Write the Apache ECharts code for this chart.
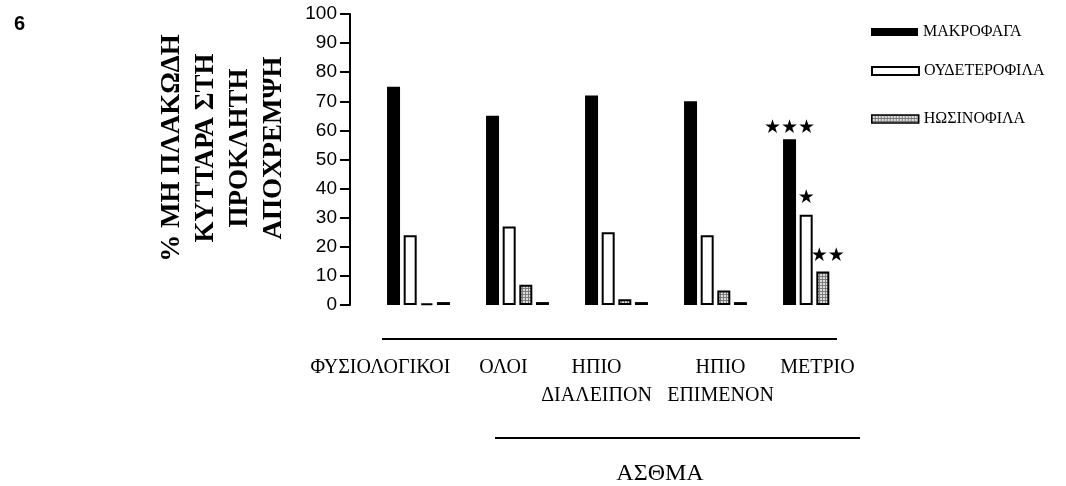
<!DOCTYPE html>
<html>
<head>
<meta charset="utf-8">
<script src="https://cdn.jsdelivr.net/npm/echarts@6/dist/echarts.min.js"></script>
<style>
html,body{margin:0;padding:0;background:#fff;}
#chart{width:1066px;height:486px;}
</style>
</head>
<body>
<div id="chart"></div>
<script>
// ---- data ----
const categories = ['ΦΥΣΙΟΛΟΓΙΚΟΙ', 'ΟΛΟΙ', 'ΗΠΙΟ\nΔΙΑΛΕΙΠΟΝ', 'ΗΠΙΟ\nΕΠΙΜΕΝΟΝ', 'ΜΕΤΡΙΟ'];
const seriesNames = ['ΜΑΚΡΟΦΑΓΑ', 'ΟΥΔΕΤΕΡΟΦΙΛΑ', 'ΗΩΣΙΝΟΦΙΛΑ'];
const macrophages = [75, 65, 72, 70, 57];
const neutrophils = [24, 27, 25, 24, 31];
const eosinophils = [0.6, 7, 2, 5, 11.5];
const otherCells = [1, 1, 1, 1, null];
const sigMacro = ['', '', '', '', '★★★'];
const sigNeut = ['', '', '', '', '★'];
const sigEos = ['', '', '', '', '★★'];
const yTitle = ['% ΜΗ ΠΛΑΚΩΔΗ', 'ΚΥΤΤΑΡΑ ΣΤΗ', 'ΠΡΟΚΛΗΤΗ', 'ΑΠΟΧΡΕΜΨΗ'];
const groupTitle = 'ΑΣΘΜΑ';
const panelLabel = '6';
const labelShift = [-38, -14, -20, 5, 3];

// ---- hatched pattern ----
const pc = document.createElement('canvas');
pc.width = 3; pc.height = 3;
const pctx = pc.getContext('2d');
pctx.fillStyle = '#dedede'; pctx.fillRect(0, 0, 3, 3);
pctx.fillStyle = '#7c7c7c'; pctx.fillRect(0, 0, 3, 1); pctx.fillRect(0, 0, 1, 3);
const hatch = { image: pc, repeat: 'repeat' };

const serif = '"Liberation Serif", "Times New Roman", serif';
const sans = '"Liberation Sans", Arial, sans-serif';

const catData = categories.map((c, i) => {
  const s = labelShift[i];
  return { value: c, textStyle: { padding: s < 0 ? [0, -2 * s, 0, 0] : [0, 0, 0, 2 * s] } };
});

const starLabel = (arr, extra) => Object.assign({
  show: true, position: 'top', color: '#000', fontFamily: '"DejaVu Sans", sans-serif', fontSize: 19,
  formatter: p => arr[p.dataIndex] || ''
}, extra || {});

const chart = echarts.init(document.getElementById('chart'), null, { renderer: 'canvas' });
const legendBase = {
  orient: 'vertical', left: 871, padding: 0, itemWidth: 47, itemHeight: 8, icon: 'rect',
  selectedMode: false,
  textStyle: { fontFamily: serif, fontSize: 16, color: '#000' }
};
chart.setOption({
  animation: false,
  backgroundColor: '#fff',
  title: { text: panelLabel, left: 14, top: 14, padding: 0,
    textStyle: { fontFamily: sans, fontWeight: 'bold', fontSize: 20, color: '#000' } },
  legend: [
    Object.assign({}, legendBase, { top: 24, data: [seriesNames[0]], itemStyle: { color: '#000', borderWidth: 0 } }),
    Object.assign({}, legendBase, { top: 63, data: [seriesNames[1]], itemStyle: { color: '#fff', borderColor: '#000', borderWidth: 2 } }),
    Object.assign({}, legendBase, { top: 111, data: [seriesNames[2]], itemStyle: { color: hatch, borderColor: '#000', borderWidth: 1.5 } })
  ],
  grid: { left: 369, width: 495, top: 14, bottom: 181, containLabel: false },
  xAxis: {
    type: 'category', data: catData,
    axisLine: { show: false }, axisTick: { show: false }, splitLine: { show: false },
    axisLabel: { interval: 0, color: '#000', fontFamily: serif, fontSize: 20, lineHeight: 28, margin: 49 }
  },
  yAxis: {
    type: 'value', min: 0, max: 100, interval: 10, offset: 19,
    axisLine: { show: true, lineStyle: { color: '#000', width: 2 } },
    axisTick: { show: true, length: 10, lineStyle: { color: '#000', width: 2 } },
    axisLabel: { color: '#000', fontFamily: sans, fontSize: 19, margin: 13 },
    splitLine: { show: false }
  },
  series: [
    { name: seriesNames[0], type: 'bar', data: macrophages, barWidth: 13, barGap: '28%',
      itemStyle: { color: '#000' }, label: starLabel(sigMacro, { distance: 2 }) },
    { name: seriesNames[1], type: 'bar', data: neutrophils, barWidth: 13, barGap: '28%',
      itemStyle: { color: '#fff', borderColor: '#000', borderWidth: 2 }, label: starLabel(sigNeut, { distance: 7 }) },
    { name: seriesNames[2], type: 'bar', data: eosinophils, barWidth: 13, barGap: '28%',
      itemStyle: { color: hatch, borderColor: '#000', borderWidth: 2 }, label: starLabel(sigEos, { distance: 6, offset: [5, 0] }) },
    { type: 'bar', data: otherCells, barWidth: 13, barGap: '28%', itemStyle: { color: '#000' } }
  ],
  graphic: [
    { type: 'text', x: 223, y: 148, rotation: Math.PI / 2,
      style: { text: yTitle.join('\n'), fontFamily: serif, fontWeight: 'bold', fontSize: 27, lineHeight: 34,
        align: 'center', verticalAlign: 'middle', fill: '#000' } },
    { type: 'line', shape: { x1: 382, y1: 339, x2: 837, y2: 339 }, style: { stroke: '#000', lineWidth: 2 } },
    { type: 'line', shape: { x1: 495, y1: 438, x2: 860, y2: 438 }, style: { stroke: '#000', lineWidth: 2 } },
    { type: 'text', x: 660, y: 474,
      style: { text: groupTitle, fontFamily: serif, fontSize: 24, align: 'center', verticalAlign: 'middle', fill: '#000' } }
  ]
});
</script>
</body>
</html>
